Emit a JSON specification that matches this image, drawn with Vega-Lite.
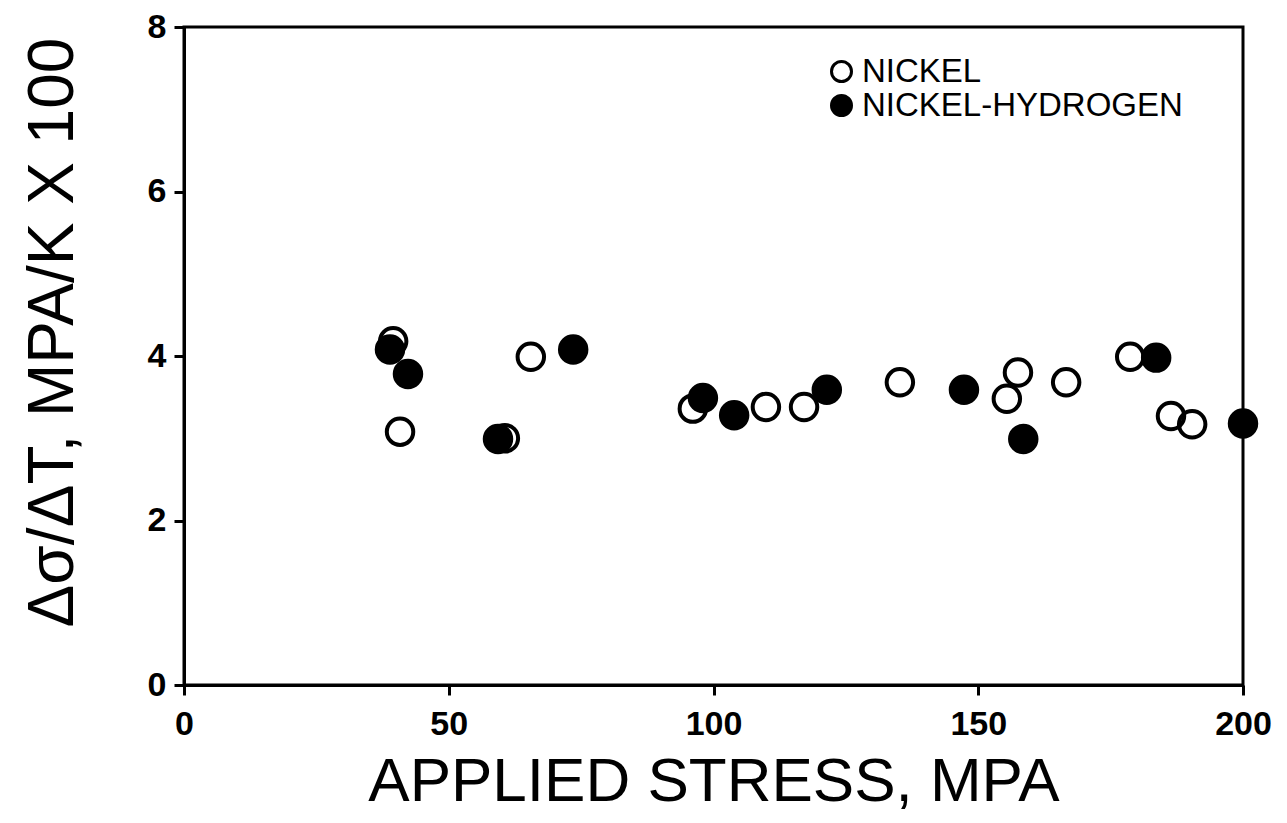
{
  "$schema": "https://vega.github.io/schema/vega-lite/v6.json",
  "width": 1059,
  "height": 658,
  "autosize": {"type": "none"},
  "padding": {"left": 184, "top": 27, "right": 44, "bottom": 138},
  "background": "white",
  "config": {
    "view": {"stroke": "black", "strokeWidth": 3},
    "font": "Liberation Sans"
  },
  "data": {
    "values": [
      {"stress": 39.5, "rate": 4.18, "series": "NICKEL"},
      {"stress": 40.8, "rate": 3.08, "series": "NICKEL"},
      {"stress": 60.6, "rate": 3.0, "series": "NICKEL"},
      {"stress": 65.5, "rate": 3.99, "series": "NICKEL"},
      {"stress": 96.1, "rate": 3.36, "series": "NICKEL"},
      {"stress": 109.9, "rate": 3.38, "series": "NICKEL"},
      {"stress": 117.1, "rate": 3.38, "series": "NICKEL"},
      {"stress": 135.2, "rate": 3.68, "series": "NICKEL"},
      {"stress": 157.5, "rate": 3.8, "series": "NICKEL"},
      {"stress": 155.4, "rate": 3.48, "series": "NICKEL"},
      {"stress": 166.6, "rate": 3.68, "series": "NICKEL"},
      {"stress": 178.7, "rate": 3.99, "series": "NICKEL"},
      {"stress": 186.4, "rate": 3.27, "series": "NICKEL"},
      {"stress": 190.4, "rate": 3.17, "series": "NICKEL"},
      {"stress": 38.9, "rate": 4.08, "series": "NICKEL-HYDROGEN"},
      {"stress": 42.3, "rate": 3.78, "series": "NICKEL-HYDROGEN"},
      {"stress": 59.3, "rate": 2.99, "series": "NICKEL-HYDROGEN"},
      {"stress": 73.5, "rate": 4.08, "series": "NICKEL-HYDROGEN"},
      {"stress": 98.0, "rate": 3.49, "series": "NICKEL-HYDROGEN"},
      {"stress": 103.9, "rate": 3.28, "series": "NICKEL-HYDROGEN"},
      {"stress": 121.4, "rate": 3.59, "series": "NICKEL-HYDROGEN"},
      {"stress": 147.3, "rate": 3.59, "series": "NICKEL-HYDROGEN"},
      {"stress": 158.5, "rate": 2.99, "series": "NICKEL-HYDROGEN"},
      {"stress": 183.6, "rate": 3.98, "series": "NICKEL-HYDROGEN"},
      {"stress": 200.0, "rate": 3.18, "series": "NICKEL-HYDROGEN"}
    ]
  },
  "mark": {"type": "point", "shape": "circle", "stroke": "black", "strokeWidth": 4, "size": 700, "opacity": 1},
  "encoding": {
    "x": {
      "field": "stress", "type": "quantitative",
      "scale": {"domain": [0, 200], "nice": false, "zero": false},
      "axis": {
        "title": "APPLIED STRESS, MPA",
        "values": [0, 50, 100, 150, 200],
        "grid": false,
        "domainColor": "black", "domainWidth": 3,
        "tickColor": "black", "tickWidth": 3, "tickSize": 10,
        "labelFont": "Liberation Sans", "labelFontWeight": "bold", "labelFontSize": 34, "labelColor": "black",
        "labelPadding": 12, "labelFlush": false,
        "titleFont": "Liberation Sans", "titleFontWeight": "normal", "titleFontSize": 62, "titleColor": "black",
        "titleY": 96, "titleBaseline": "middle"
      }
    },
    "y": {
      "field": "rate", "type": "quantitative",
      "scale": {"domain": [0, 8], "nice": false, "zero": false},
      "axis": {
        "title": "Δσ/ΔT, MPA/K X 100",
        "values": [0, 2, 4, 6, 8],
        "grid": false,
        "domainColor": "black", "domainWidth": 3,
        "tickColor": "black", "tickWidth": 3, "tickSize": 10,
        "labelFont": "Liberation Sans", "labelFontWeight": "bold", "labelFontSize": 34, "labelColor": "black",
        "labelPadding": 8, "labelFlush": false,
        "titleFont": "Liberation Sans", "titleFontWeight": "normal", "titleFontSize": 64, "titleColor": "black",
        "titleX": -131, "titleY": 305, "titleBaseline": "middle", "titleAngle": -90
      }
    },
    "fill": {
      "field": "series", "type": "nominal",
      "scale": {"domain": ["NICKEL", "NICKEL-HYDROGEN"], "range": ["rgba(255,255,255,0)", "black"]},
      "legend": {
        "title": null,
        "orient": "none",
        "legendX": 641,
        "legendY": 28,
        "padding": 0,
        "rowPadding": 0,
        "symbolType": "circle",
        "symbolSize": 400,
        "symbolStrokeColor": "black",
        "symbolStrokeWidth": 3,
        "labelFont": "Liberation Sans",
        "labelFontSize": 33,
        "labelColor": "black",
        "labelOffset": 4,
        "labelLimit": 500
      }
    }
  }
}
